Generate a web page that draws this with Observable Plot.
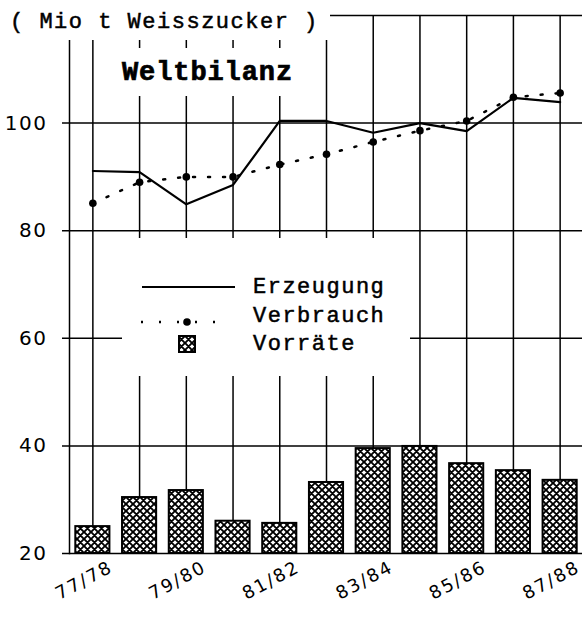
<!DOCTYPE html>
<html>
<head>
<meta charset="utf-8">
<script src="https://cdn.jsdelivr.net/npm/d3@7"></script>
<script src="https://cdn.jsdelivr.net/npm/@observablehq/plot@0.6"></script>
<style>
  html, body { margin: 0; padding: 0; background: #fff; }
  #wrap { position: relative; width: 582px; height: 617px; overflow: hidden; }
  #wrap > svg.overlay { position: absolute; left: 0; top: 0; pointer-events: none; }
  .tw { font-family: "Liberation Mono", monospace; font-size: 22px; letter-spacing: 1.5px; fill: #000; stroke: #000; stroke-width: 0.5px; }
  .title { font-family: "Liberation Mono", monospace; font-weight: bold; font-size: 27px; letter-spacing: 0.9px; fill: #000; stroke: #000; stroke-width: 0.7px; }
  .ylab text { letter-spacing: 1.5px; }
  .xlab text { letter-spacing: 2px; }
</style>
</head>
<body>
<svg width="0" height="0" style="position:absolute">
  <defs>
    <pattern id="hatch" patternUnits="userSpaceOnUse" width="7" height="7">
      <rect width="7" height="7" fill="#fff"></rect>
      <path d="M-7,0L7,14M-1,-1L8,8M0,-7L14,7M-7,7L7,-7M-1,8L8,-1M0,14L14,0" stroke="#000" stroke-width="1.9" fill="none"></path>
    </pattern>
  </defs>
</svg>
<div id="wrap"></div>
<script>
// ---- data ----
const seasons = ["77/78","78/79","79/80","80/81","81/82","82/83","83/84","84/85","85/86","86/87","87/88"];
const erzeugung = [91.1, 90.9, 84.9, 88.5, 100.4, 100.4, 98.2, 100.0, 98.5, 104.7, 103.9];
const verbrauch = [85.1, 89.0, 90.0, 90.0, 92.3, 94.2, 96.5, 98.6, 100.4, 104.8, 105.6];
const vorraete  = [25.0, 30.4, 31.7, 26.0, 25.6, 33.2, 39.5, 39.9, 36.7, 35.4, 33.6];
const yTicks = [20, 40, 60, 80, 100];
const yGrid = [20, 40, 60, 80, 100, 120];
const xLabels = ["77/78","79/80","81/82","83/84","85/86","87/88"];

const data = seasons.map((s, i) => ({season: s, erz: erzeugung[i], ver: verbrauch[i], vor: vorraete[i]}));

const chart = Plot.plot({
  width: 582,
  height: 617,
  marginTop: 15,
  marginBottom: 64,
  marginLeft: 69,
  marginRight: 0,
  style: {background: "#fff", overflow: "visible"},
  x: {type: "band", domain: seasons, range: [69, 583], round: false, paddingInner: 0.27, paddingOuter: 0.135, axis: null},
  y: {domain: [20, 120], axis: null},
  marks: [
    Plot.ruleY(yGrid, {y: d => d, stroke: "#000", strokeWidth: 1.5, insetLeft: -7}),
    Plot.frame({anchor: "left", stroke: "#000", strokeWidth: 1.5}),
    Plot.ruleX(data, {x: "season", y1: 120, y2: "vor", stroke: "#000", strokeWidth: 1.5}),
    Plot.barY(data, {x: "season", y1: 20, y2: "vor", fill: "url(#hatch)", stroke: "#000", strokeWidth: 2}),
    Plot.line(data, {x: "season", y: "erz", stroke: "#000", strokeWidth: 2.2}),
    Plot.line(data, {x: "season", y: "ver", stroke: "#000", strokeWidth: 2.5, strokeDasharray: "2,13"}),
    Plot.dot(data, {x: "season", y: "ver", r: 3.8, fill: "#000", stroke: "none"}),
    Plot.text(yTicks, {y: d => d, text: d => String(d), frameAnchor: "left", dx: -22, textAnchor: "end", fontSize: 20, fontFamily: "DejaVu Sans", className: "ylab"}),
    Plot.text(xLabels, {x: d => d, text: d => d, frameAnchor: "bottom", dy: 32, dx: -6, rotate: -28, fontSize: 18, fontFamily: "DejaVu Sans", className: "xlab"})
  ]
});
const wrap = document.getElementById("wrap");
wrap.appendChild(chart);

// overlay: caption, title and legend boxes (layout only)
const ns = "http://www.w3.org/2000/svg";
const ov = document.createElementNS(ns, "svg");
ov.setAttribute("class", "overlay");
ov.setAttribute("width", 582);
ov.setAttribute("height", 617);
ov.innerHTML = `
  <rect x="0" y="0" width="330" height="40" fill="#fff"></rect>
  <text class="tw" x="10" y="28">( Mio t Weisszucker )</text>
  <rect x="112" y="48" width="196" height="48" fill="#fff"></rect>
  <text class="title" x="122" y="80">Weltbilanz</text>
  <g transform="translate(122,238)">
    <rect x="0" y="0" width="288" height="138" fill="#fff"></rect>
    <line x1="20" x2="113" y1="49" y2="49" stroke="#000" stroke-width="2"></line>
    <text class="tw" x="131" y="55">Erzeugung</text>
    <line x1="19" x2="100" y1="84" y2="84" stroke="#000" stroke-width="2.5" stroke-dasharray="2,16"></line>
    <circle cx="65" cy="84" r="3.8" fill="#000"></circle>
    <text class="tw" x="131" y="84">Verbrauch</text>
    <rect x="57" y="98" width="16" height="16" fill="url(#hatch)" stroke="#000" stroke-width="2"></rect>
    <text class="tw" x="131" y="112">Vorräte</text>
  </g>`;
wrap.appendChild(ov);
</script>
</body>
</html>
